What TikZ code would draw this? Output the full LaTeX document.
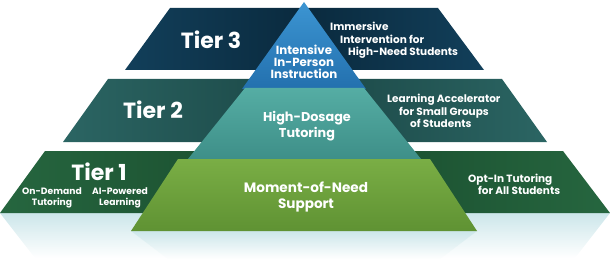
\documentclass[tikz,border=0pt]{standalone}
\usepackage{fontspec}
\setmainfont{Poppins}
\definecolor{navy}{HTML}{123F5A}
\definecolor{navyd}{HTML}{0A2A3E}
\definecolor{teald}{HTML}{2B6563}
\definecolor{tealdd}{HTML}{1B4746}
\definecolor{greend}{HTML}{26663F}
\definecolor{greendd}{HTML}{184A2C}
\definecolor{blueA}{HTML}{3C95D2}
\definecolor{blueB}{HTML}{2370AE}
\definecolor{tealA}{HTML}{55ADA4}
\definecolor{tealB}{HTML}{3E8F88}
\definecolor{grnA}{HTML}{7AAE45}
\definecolor{grnB}{HTML}{5F9233}
\definecolor{refl}{HTML}{CCE6EA}
\tikzset{
  bigtier/.style={text=white,font=\bfseries\fontsize{22}{24}\selectfont,inner sep=0pt},
  desc/.style={text=white,font=\bfseries\fontsize{10.5}{12.5}\selectfont,inner sep=0pt,anchor=base west},
  sub/.style={text=white,font=\bfseries\fontsize{9.2}{10.8}\selectfont,inner sep=0pt,align=center},
  pyr/.style={text=white,font=\bfseries,inner sep=0pt,align=center},
}
\begin{document}
\begin{tikzpicture}[x=1pt,y=-1pt]
\useasboundingbox (0,0) rectangle (610,259);
% reflections
\shade[top color=refl,bottom color=white] (0,213) -- (610,213) -- (575,258) -- (35,258) -- cycle;
% bands
\shade[left color=navy,right color=navy,middle color=navyd] (170,8) -- (438,8) -- (484,70) -- (125,70) -- cycle;
\shade[left color=teald,right color=teald,middle color=tealdd] (108,79) -- (502,79) -- (547,142) -- (63,142) -- cycle;
\shade[left color=greend,right color=greend,middle color=greendd] (45,151) -- (563,151) -- (610,213) -- (0,213) -- cycle;
% pyramid
\shade[top color=blueA,bottom color=blueB] (304,2) -- (366,89) -- (242,89) -- cycle;
\shade[top color=tealA,bottom color=tealB] (245,88) -- (364,88) -- (421,159) -- (188,159) -- cycle;
\shade[top color=refl,bottom color=white] (131,231) -- (477,231) -- (440,259) -- (168,259) -- cycle;
\shade[top color=grnA,bottom color=grnB] (178,159) -- (430,159) -- (477,231) -- (131,231) -- cycle;
% texts
\node[bigtier] (tier3) at (211,40) {Tier 3};
\node[bigtier] (tier2) at (153,110) {Tier 2};
\node[bigtier] (tier1) at (99,172) {Tier 1};
\node[desc] (t3a) at (330,31) {Immersive};
\node[desc] (t3b) at (340,43.5) {Intervention for};
\node[desc] (t3c) at (348,56) {High-Need Students};
\node[desc] (t2a) at (387,103) {Learning Accelerator};
\node[desc] (t2b) at (399,115.5) {for Small Groups};
\node[desc] (t2c) at (410,128) {of Students};
\node[desc] (t1a) at (468,182) {Opt-In Tutoring};
\node[desc] (t1b) at (478,194.5) {for All Students};
\node[sub] (ond) at (52,198) {On-Demand\\Tutoring};
\node[sub] (aip) at (120,198) {AI-Powered\\Learning};
\node[pyr,font=\bfseries\fontsize{11.8}{12.2}\selectfont] (p3) at (304,62) {Intensive\\In-Person\\Instruction};
\node[pyr,font=\bfseries\fontsize{12.8}{16}\selectfont] (p2) at (307,126) {High-Dosage\\Tutoring};
\node[pyr,font=\bfseries\fontsize{13.6}{15.5}\selectfont] (p1) at (306,197) {Moment-of-Need\\Support};
\end{tikzpicture}
\end{document}
